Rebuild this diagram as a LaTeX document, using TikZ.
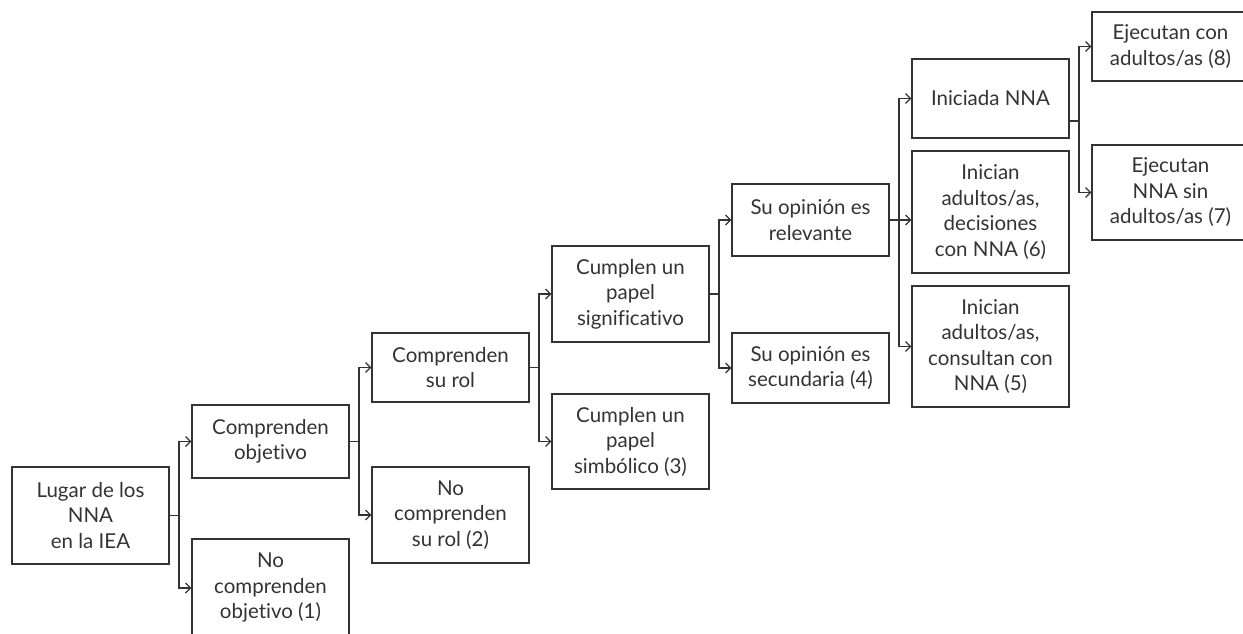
\documentclass[tikz,border=0pt]{standalone}
\usepackage{fontspec}
\setmainfont{Lato}[Ligatures=NoCommon]
\usetikzlibrary{arrows.meta}
\definecolor{ink}{HTML}{333333}
\tikzset{
  box/.style={draw=ink, line width=1.3pt, text=ink, align=center, minimum width=157pt, inner sep=2pt,
    font=\fontsize{20.5}{25.5}\selectfont},
  arr/.style={draw=ink, line width=1.2pt, -{Straight Barb[length=5pt,width=10pt]}},
  ln/.style={draw=ink, line width=1.2pt}
}
\begin{document}
\begin{tikzpicture}[x=1pt,y=-1pt]
\useasboundingbox (0,0) rectangle (1243,634);
\clip (0,0) rectangle (1243,634);
\node[box, minimum height=97pt] (lugar) at (90.5,515.5) {Lugar de los\\NNA\\en la IEA};
\node[box, minimum height=73pt] (compObj) at (270.5,441.5) {Comprenden\\objetivo};
\node[box, minimum height=98pt] (noObj) at (270.5,588) {No\\comprenden\\objetivo (1)};
\node[box, minimum height=69pt] (compRol) at (450.5,367.5) {Comprenden\\su rol};
\node[box, minimum height=96pt] (noRol) at (450.5,515) {No\\comprenden\\su rol (2)};
\node[box, minimum height=96pt] (sig) at (630.5,294) {Cumplen un\\papel\\significativo};
\node[box, minimum height=95pt] (simb) at (630.5,441.5) {Cumplen un\\papel\\simbólico (3)};
\node[box, minimum height=72pt] (rel) at (810.5,220) {Su opinión es\\relevante};
\node[box, minimum height=70pt] (sec) at (810.5,368) {Su opinión es\\secundaria (4)};
\node[box, minimum height=79pt] (ini) at (990.5,98.5) {Iniciada NNA};
\node[box, minimum height=122pt] (dec) at (990.5,212) {Inician\\adultos/as,\\decisiones\\con NNA (6)};
\node[box, minimum height=121pt] (cons) at (990.5,346.5) {Inician\\adultos/as,\\consultan con\\NNA (5)};
\node[box, minimum height=69pt] (ej8) at (1170.5,46.5) {Ejecutan con\\adultos/as (8)};
\node[box, minimum height=95pt] (ej7) at (1170.5,192.5) {Ejecutan\\NNA sin\\adultos/as (7)};
% junctions
\coordinate (j1) at (179,515.5);
\coordinate (j2) at (359,441.5);
\coordinate (j3) at (539,367.5);
\coordinate (j4) at (719,294);
\coordinate (j5) at (899,220);
\coordinate (iniOut) at (1069,121);
\coordinate (j6) at (1079,121);
% connectors
\draw[ln] (lugar.east) -- (j1);
\draw[arr] (j1) |- (compObj.west);
\draw[arr] (j1) |- (noObj.west);
\draw[ln] (compObj.east) -- (j2);
\draw[arr] (j2) |- (compRol.west);
\draw[arr] (j2) |- (noRol.west);
\draw[ln] (compRol.east) -- (j3);
\draw[arr] (j3) |- (sig.west);
\draw[arr] (j3) |- (simb.west);
\draw[ln] (sig.east) -- (j4);
\draw[arr] (j4) |- (rel.west);
\draw[arr] (j4) |- (sec.west);
\draw[ln] (rel.east) -- (j5);
\draw[arr] (j5) |- (ini.west);
\draw[arr] (j5) -- (dec.west |- j5);
\draw[arr] (j5) |- (cons.west);
\draw[ln] (iniOut) -- (j6);
\draw[arr] (j6) |- (ej8.west);
\draw[arr] (j6) |- (ej7.west);
\end{tikzpicture}
\end{document}
